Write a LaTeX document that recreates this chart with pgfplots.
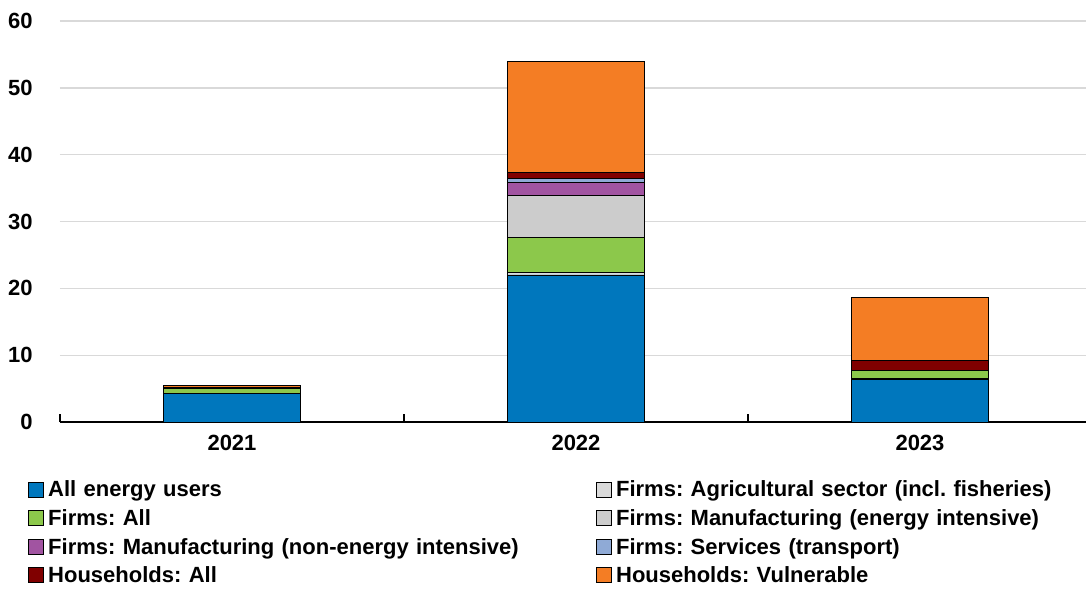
\documentclass[border=0pt]{standalone}
\usepackage{pgfplots}
\pgfplotsset{compat=1.18}
\usepackage{fontspec}
\setmainfont{Liberation Sans}
\frenchspacing

\definecolor{cBlue}{RGB}{0,119,189}
\definecolor{cAgri}{RGB}{218,218,218}
\definecolor{cGreen}{RGB}{140,200,75}
\definecolor{cManE}{RGB}{204,204,204}
\definecolor{cManN}{RGB}{161,84,161}
\definecolor{cServ}{RGB}{143,170,214}
\definecolor{cHH}{RGB}{128,0,0}
\definecolor{cVuln}{RGB}{244,125,36}
\definecolor{cGrid}{RGB}{217,217,217}

\begin{document}
\begin{tikzpicture}
\useasboundingbox (-45pt,-125.25pt) rectangle (769.5pt,316.5pt);
\begin{axis}[
    at={(0pt,0pt)}, anchor=south west,
    scale only axis,
    width=769.5pt, height=300.75pt,
    ybar stacked, bar width=0.4,
    xmin=-0.5, xmax=2.4826,
    ymin=0, ymax=60,
    xtick={0,1,2}, xticklabels={2021,2022,2023},
    ytick={0,10,...,60},
    extra x ticks={-0.5,0.5,1.5},
    extra x tick labels={},
    extra x tick style={major tick length=6pt, tick align=inside, tick style={black, line width=1.2pt}, grid=none},
    major tick length=0pt,
    axis x line*=bottom,
    axis y line*=left,
    y axis line style={draw=none},
    ymajorgrids, grid style={cGrid, line width=1pt},
    x axis line style={black, line width=1.3pt},
    ticklabel style={font=\bfseries\fontsize{16.5}{18}\selectfont},
    /pgf/number format/assume math mode=true,
    xticklabel style={yshift=-6pt},
    yticklabel style={anchor=east, xshift=-17pt},
    every axis plot/.append style={draw=black, line width=0.7pt},
    legend columns=2,
    legend cell align=left,
    legend style={at={(-24pt,-42pt)}, anchor=north west, draw=none, fill=none,
        font=\bfseries\fontsize{16.5}{18}\selectfont,
        inner sep=0pt, row sep=4pt,
        nodes={inner xsep=0pt},
        /tikz/every odd column/.append style={column sep=3pt},
        /tikz/every even column/.append style={text width=411pt}},
    legend image code/.code={\draw[#1, draw=black, line width=0.7pt] (0pt,-5.3pt) rectangle (11.25pt,5.9pt);},
]
\addplot[fill=cBlue] coordinates {(0,4.2) (1,22.0) (2,6.3)};
\addplot[fill=cAgri] coordinates {(0,0) (1,0.35) (2,0.15)};
\addplot[fill=cGreen] coordinates {(0,0.8) (1,5.3) (2,1.3)};
\addplot[fill=cManE] coordinates {(0,0) (1,6.3) (2,0)};
\addplot[fill=cManN] coordinates {(0,0) (1,1.95) (2,0)};
\addplot[fill=cServ] coordinates {(0,0) (1,0.55) (2,0)};
\addplot[fill=cHH] coordinates {(0,0.15) (1,0.85) (2,1.4)};
\addplot[fill=cVuln] coordinates {(0,0.3) (1,16.6) (2,9.5)};
\legend{All energy users, Firms: Agricultural sector (incl. fisheries),
        Firms: All, Firms: Manufacturing (energy intensive),
        Firms: Manufacturing (non-energy intensive), Firms: Services (transport),
        Households: All, Households: Vulnerable}
\end{axis}
\end{tikzpicture}
\end{document}
